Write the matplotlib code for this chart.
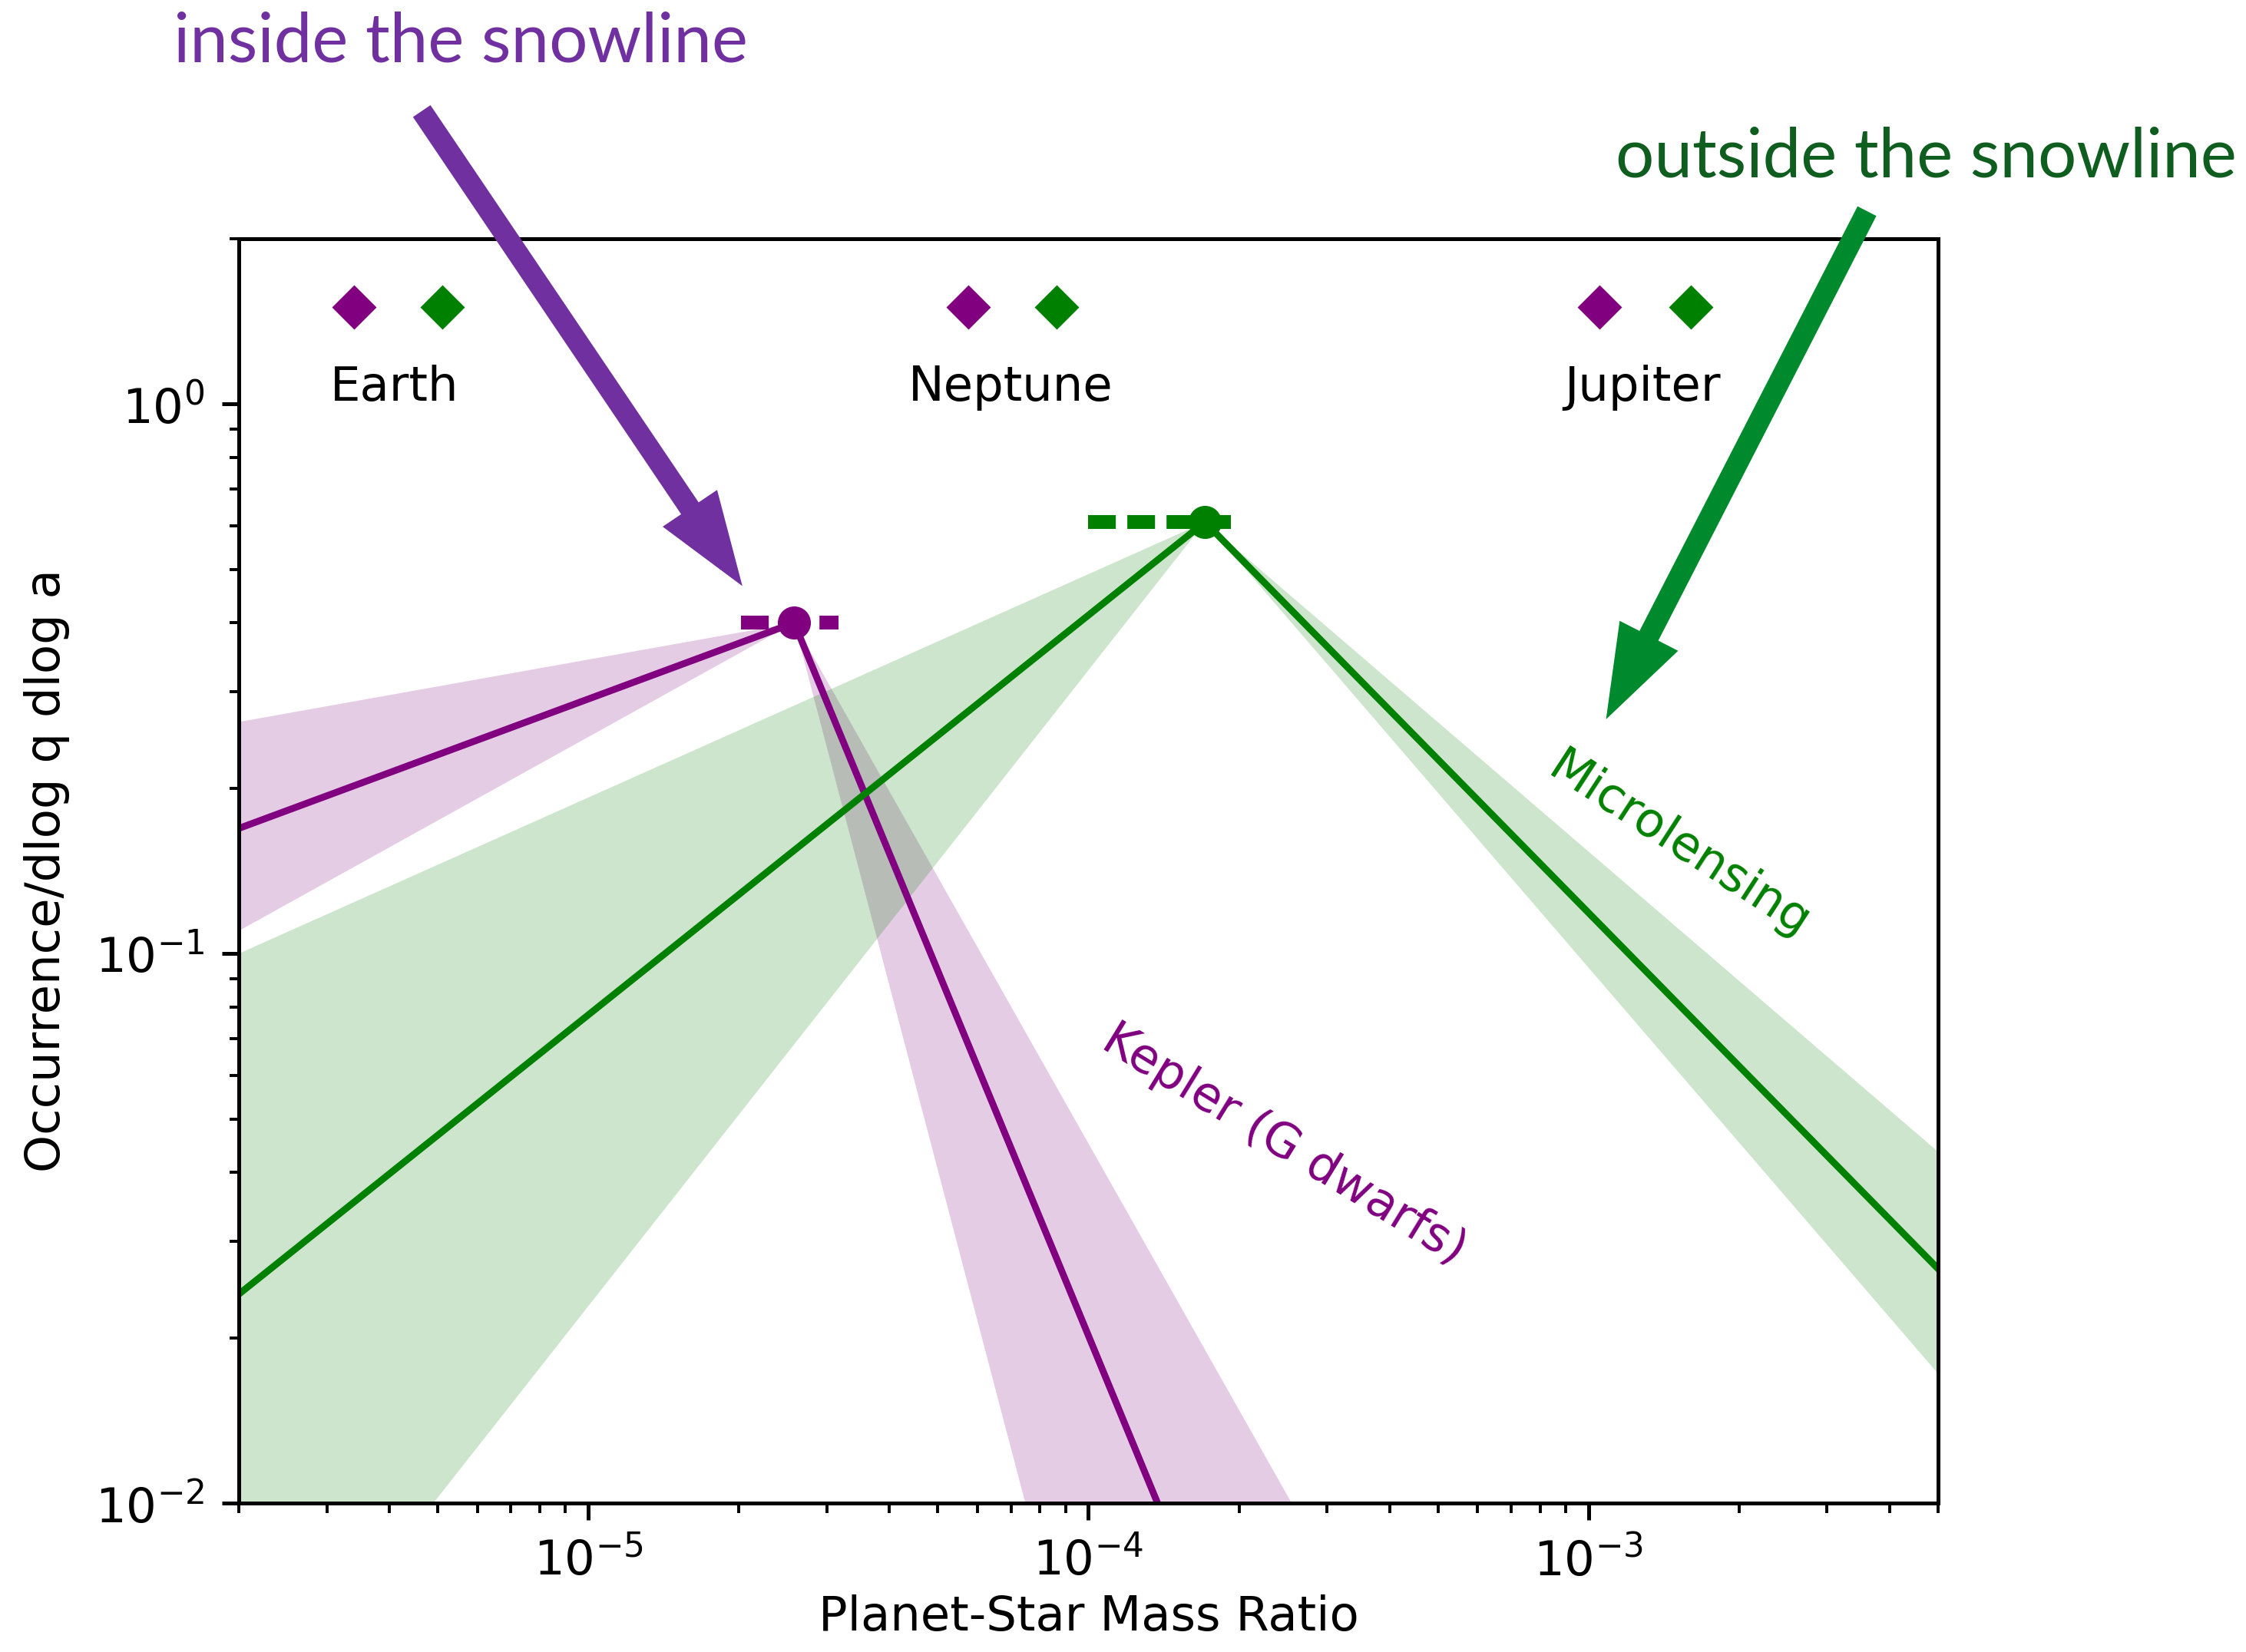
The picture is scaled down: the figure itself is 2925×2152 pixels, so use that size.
import matplotlib.pyplot as plt
import numpy as np

# planet reference points (mass ratio) -- G dwarf host vs M dwarf host
planet_names = ["Earth", "Neptune", "Jupiter"]
q_kepler_planets = [3.4e-6, 5.75e-5, 1.05e-3]
q_micro_planets = [5.1e-6, 8.65e-5, 1.6e-3]
q_planet_labels = [4.1e-6, 7.0e-5, 1.28e-3]
y_planet_markers = 1.5
y_planet_labels = 1.07

# Kepler (G dwarfs) broken power law
kep_line_q = [2.0e-6, 2.58e-5, 1.375e-4]
kep_line_y = [0.169, 0.40, 0.01]
kep_band_left_q = [2.58e-5, 2.0e-6, 2.0e-6]
kep_band_left_y = [0.40, 0.264, 0.11]
kep_band_right_q = [2.58e-5, 7.48e-5, 2.55e-4]
kep_band_right_y = [0.40, 0.01, 0.01]
kep_break_q = [2.02e-5, 3.16e-5]

# Microlensing broken power law
mic_line_q = [2.0e-6, 1.71e-4, 5.0e-3]
mic_line_y = [0.024, 0.61, 0.0267]
mic_band_left_q = [1.71e-4, 2.0e-6, 2.0e-6, 4.9e-6]
mic_band_left_y = [0.61, 0.10, 0.01, 0.01]
mic_band_right_q = [1.71e-4, 5.0e-3, 5.0e-3]
mic_band_right_y = [0.61, 0.0436, 0.0172]
mic_break_q = [1.0e-4, 1.93e-4]

purple = "purple"
green = "green"

fig = plt.figure(figsize=(14.625, 10.76), dpi=200)
ax = fig.add_axes([0.1063, 0.0901, 0.7566, 0.7654])
ax.set_xscale("log")
ax.set_yscale("log")

# uncertainty bands
ax.fill(kep_band_left_q, kep_band_left_y, color=purple, alpha=0.2, lw=0)
ax.fill(kep_band_right_q, kep_band_right_y, color=purple, alpha=0.2, lw=0)
ax.fill(mic_band_left_q, mic_band_left_y, color=green, alpha=0.2, lw=0)
ax.fill(mic_band_right_q, mic_band_right_y, color=green, alpha=0.2, lw=0)

# best fit lines
ax.plot(kep_line_q, kep_line_y, color=purple, lw=3.2)
ax.plot(mic_line_q, mic_line_y, color=green, lw=3.2)

# break location + uncertainty
dash = (0, (2.0, 0.83))
ax.plot(kep_break_q, [kep_line_y[1]] * 2, color=purple, lw=6.5, ls=dash, dash_capstyle="butt")
ax.plot(mic_break_q, [mic_line_y[1]] * 2, color=green, lw=6.5, ls=dash, dash_capstyle="butt")
ax.plot(kep_line_q[1], kep_line_y[1], "o", color=purple, ms=14.5)
ax.plot(mic_line_q[1], mic_line_y[1], "o", color=green, ms=14.5)

# solar system planets
for name, qk, qm, ql in zip(planet_names, q_kepler_planets, q_micro_planets, q_planet_labels):
    ax.plot(qk, y_planet_markers, "D", color=purple, ms=14)
    ax.plot(qm, y_planet_markers, "D", color=green, ms=14)
    ax.text(ql, y_planet_labels, name, fontsize=22.5, ha="center", va="center")

ax.text(2.46e-4, 0.0449, "Kepler (G dwarfs)", color=purple, fontsize=22.5,
        rotation=-31.5, ha="center", va="center", rotation_mode="anchor")
ax.text(1.52e-3, 0.157, "Microlensing", color=green, fontsize=22.5,
        rotation=-33, ha="center", va="center", rotation_mode="anchor")

ax.set_xlim(2e-6, 5e-3)
ax.set_ylim(0.01, 2.0)
ax.set_xlabel("Planet-Star Mass Ratio", fontsize=22.5)
ax.set_ylabel("Occurrence/dlog q dlog a", fontsize=22.5, labelpad=12)
ax.tick_params(axis="both", which="major", labelsize=22.5, length=8, width=1.8, pad=8)
ax.tick_params(axis="both", which="minor", length=4.5, width=1.4)
for s in ax.spines.values():
    s.set_linewidth(1.8)

# slide annotations
fig.text(0.2052, 0.974, "inside the snowline", color="#7030A0", fontsize=32,
         family="Lato", ha="center", va="center")
fig.text(0.8576, 0.9047, "outside the snowline", color="#0F5E1F", fontsize=32,
         family="Lato", ha="center", va="center")
ax.annotate("", xy=(0.3316, 0.6431), xycoords="figure fraction",
            xytext=(0.1867, 0.9349), textcoords="figure fraction",
            arrowprops=dict(arrowstyle="simple,head_length=2.0,head_width=1.4,tail_width=0.45",
                            mutation_scale=22, color="#7030A0", lw=0),
            annotation_clip=False)
ax.annotate("", xy=(0.7142, 0.5623), xycoords="figure fraction",
            xytext=(0.8321, 0.8745), textcoords="figure fraction",
            arrowprops=dict(arrowstyle="simple,head_length=2.0,head_width=1.4,tail_width=0.45",
                            mutation_scale=22, color="#008A2E", lw=0),
            annotation_clip=False)

fig.savefig("out.png", dpi=200)
